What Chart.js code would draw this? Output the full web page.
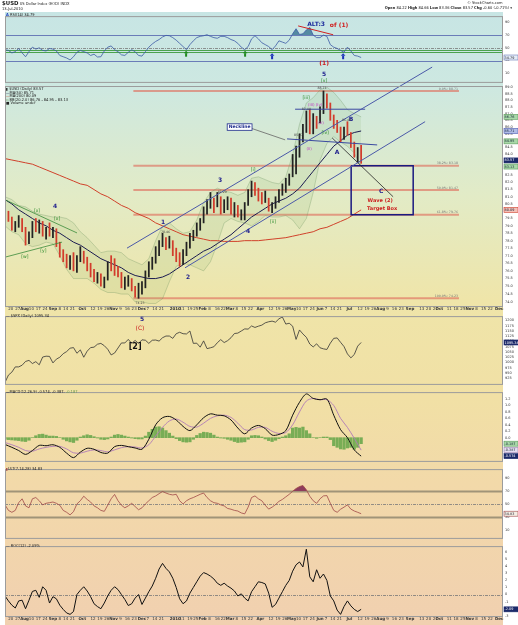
<!DOCTYPE html>
<html>
<head>
<meta charset="utf-8">
<title>$USD US Dollar Index (EOD)</title>
<script src="https://cdn.jsdelivr.net/npm/chart.js@4.4.1/dist/chart.umd.min.js"></script>
<style>
  body { margin: 0; width: 518px; height: 625px; position: relative; overflow: hidden; background: #fff;
         font-family: "DejaVu Sans", Verdana, sans-serif; }
  #bg { position: absolute; left: 5px; top: 12px; width: 498px; height: 613px;
        background: linear-gradient(to bottom, #c7e5e4 0%, #cde8e1 12%, #e2ebc6 30%, #efe5a9 47%,
                                    #f1e0a5 63%, #f2d9a9 77%, #f1d0b0 100%); }
  canvas { position: absolute; left: 0; }
  .t { position: absolute; white-space: nowrap; font-size: 8px; line-height: 8px;
       transform-origin: 0 0; transform: scale(0.45); color: #222; }
  .r { transform-origin: 100% 0; text-align: right; }
</style>
</head>
<body>
<div id="bg"></div>
<canvas id="cRsi" width="518" height="74" style="top:12px"></canvas>
<canvas id="cPrice" width="518" height="300" style="top:12px"></canvas>
<canvas id="cSpx" width="518" height="76" style="top:312px"></canvas>
<canvas id="cMacd" width="518" height="77" style="top:388px"></canvas>
<canvas id="cUlt" width="518" height="77" style="top:465px"></canvas>
<canvas id="cRoc" width="518" height="83" style="top:542px"></canvas>

<div class="t" style="left:2px;top:1px"><b style="font-size:12px">$USD</b> US Dollar Index (EOD) INDX</div>
<div class="t" style="left:2px;top:7px">13-Jul-2010</div>
<div class="t r" style="right:16px;top:1px">&copy; StockCharts.com</div>
<div class="t r" style="right:6px;top:6px"><b>Open</b> 84.22 <b>High</b> 84.66 <b>Low</b> 83.36 <b>Close</b> 83.57 <b>Chg</b> -0.60 (-0.71%) &#9662;</div>
<div class="t" style="left:6px;top:13px"><b style="color:#2040c0">A</b> RSI(14) 34.79</div>
<div class="t" style="left:6px;top:87px">&#9646; $USD (Daily) 83.57</div>
<div class="t" style="left:6px;top:90.5px"><span style="color:#1a1a50">&mdash;</span>MA(50) 85.71</div>
<div class="t" style="left:6px;top:94px"><span style="color:#d0402a">&mdash;</span>MA(200) 80.09</div>
<div class="t" style="left:6px;top:97.5px"><span style="color:#6a9a5a">&#9643;</span> BB(20,2.0) 86.76 - 84.95 - 83.13</div>
<div class="t" style="left:6px;top:101px">&#9632; Volume undef</div>
<div class="t" style="left:6px;top:313.5px">&mdash; $SPX (Daily) 1095.34</div>
<div class="t" style="left:6px;top:389.5px"><b>&mdash;</b>MACD(12,26,9) -0.574, -0.387, <span style="color:#6a9a4a">-0.187</span></div>
<div class="t" style="left:6px;top:466.5px"><span style="color:#a04848">&#9646;</span>ULT(7,14,28) 34.83</div>
<div class="t" style="left:6px;top:543.5px">&mdash; ROC(12) -2.09%</div>

<script>
// sampling grid (days since 14-Jul-2009)
const HALF = 3.5;
const WEEK = 7;

// x axis tick labels
const xTickDates = ['2009-07-20','2009-07-27','2009-08-03','2009-08-10','2009-08-17','2009-08-24',
  '2009-09-01','2009-09-08','2009-09-14','2009-09-21','2009-10-01','2009-10-12','2009-10-19','2009-10-26',
  '2009-11-02','2009-11-09','2009-11-16','2009-11-23','2009-12-01','2009-12-07','2009-12-14','2009-12-21',
  '2010-01-04','2010-01-11','2010-01-19','2010-01-25','2010-02-01','2010-02-08','2010-02-16','2010-02-22',
  '2010-03-01','2010-03-08','2010-03-15','2010-03-22','2010-04-01','2010-04-12','2010-04-19','2010-04-26',
  '2010-05-03','2010-05-10','2010-05-17','2010-05-24','2010-06-01','2010-06-07','2010-06-14','2010-06-21',
  '2010-07-01','2010-07-12','2010-07-19','2010-07-26','2010-08-02','2010-08-09','2010-08-16','2010-08-23',
  '2010-09-01','2010-09-13','2010-09-20','2010-09-27','2010-10-01','2010-10-11','2010-10-18','2010-10-25',
  '2010-11-01','2010-11-08','2010-11-15','2010-11-22','2010-12-01'];
const xTickNames = ['20','27','Aug','10','17','24','Sep','8','14','21','Oct','12','19','26',
  'Nov','9','16','23','Dec','7','14','21','2010','11','19','25','Feb','8','16','22',
  'Mar','8','15','22','Apr','12','19','26','May','10','17','24','Jun','7','14','21',
  'Jul','12','19','26','Aug','9','16','23','Sep','13','20','27','Oct','11','18','25',
  'Nov','8','15','22','Dec'];

// y axis tick labels
const rsiTicks = [90, 70, 50, 30, 10];
const priceTicks = [89, 88.5, 88, 87.5, 87, 86.5, 86, 85.5, 85, 84.5, 84, 83.5, 83, 82.5, 82, 81.5,
  81, 80.5, 80, 79.5, 79, 78.5, 78, 77.5, 77, 76.5, 76, 75.5, 75, 74.5, 74];
const spxTicks = [1200, 1175, 1150, 1125, 1100, 1075, 1050, 1025, 1000, 975, 950, 925];
const macdTicks = [1.2, 1.0, 0.8, 0.6, 0.4, 0.2, 0.0];
const ultTicks = [90, 70, 50, 30, 10];
const rocTicks = [6, 5, 4, 3, 2, 1, 0, -1, -2, -3];

// $USD price bars, two per week
const priceHigh = [80.4,80.0,79.6,79.3,79.7,79.5,78.9,78.6,79.3,79.5,79.4,79.3,78.9,79.2,78.9,78.8,77.9,77.4,77.1,77.0,
  77.2,77.0,77.6,77.3,76.9,76.5,76.1,75.9,75.8,75.6,76.6,77.0,76.8,76.3,75.9,75.6,75.7,75.5,75.0,75.2,
  75.3,76.0,76.6,76.9,77.6,78.0,78.5,78.2,78.3,78.0,77.5,77.2,77.4,77.9,78.5,78.7,79.2,79.5,80.3,80.8,
  81.3,80.9,81.3,81.0,80.8,81.0,80.9,80.6,80.4,80.1,80.6,81.5,82.1,82.0,81.6,81.3,81.4,80.9,80.6,81.0,
  81.5,81.9,82.3,82.6,84.0,84.6,85.5,86.2,87.2,87.3,87.0,86.8,87.5,88.71,88.5,87.8,86.9,86.5,86.0,86.0,
  86.4,85.6,84.9,84.5,84.66];
const priceLow = [79.6,79.3,78.7,78.6,78.9,78.6,77.7,77.8,78.2,78.6,78.5,78.3,78.1,78.3,78.2,77.6,76.9,76.6,76.2,76.1,
  76.0,75.9,76.6,76.5,76.0,75.6,75.3,75.2,75.0,74.9,75.4,76.0,75.7,75.6,74.9,74.8,75.0,74.7,74.3,74.23,
  74.5,74.9,75.6,76.1,76.5,77.0,77.6,77.4,77.5,77.0,76.6,76.3,76.4,77.0,77.5,78.0,78.3,78.7,79.2,79.8,
  80.2,79.9,80.3,79.8,79.9,80.1,79.8,79.6,79.6,79.4,79.4,80.4,81.0,81.1,80.7,80.5,80.6,80.0,79.9,80.2,
  80.6,81.1,81.3,81.8,82.4,82.6,83.8,84.9,85.6,85.5,85.5,85.9,86.3,87.0,87.4,86.5,85.9,85.6,84.9,85.1,
  85.4,84.5,83.8,83.4,83.36];
const priceClose = [79.8,79.5,78.9,79.1,79.3,78.8,78.0,78.4,79.0,78.8,79.2,78.5,78.6,78.5,78.7,77.8,77.1,76.8,76.4,76.6,
  76.3,76.8,77.2,76.8,76.3,75.8,75.5,75.5,75.2,75.4,76.4,76.2,76.0,75.8,75.1,75.3,75.4,74.9,74.5,75.0,
  75.0,75.8,76.4,76.6,77.4,77.8,78.0,77.7,77.9,77.2,76.9,76.6,77.2,77.7,78.3,78.4,79.0,79.3,80.1,80.5,
  80.6,80.4,80.8,80.2,80.5,80.6,80.0,80.0,79.8,79.9,80.4,81.3,81.8,81.4,81.0,80.9,80.9,80.2,80.3,80.8,
  81.3,81.6,82.0,82.4,83.8,84.2,85.3,85.9,86.8,85.8,86.6,86.4,87.2,88.2,87.6,86.8,86.1,85.8,85.2,85.8,
  85.6,84.7,84.0,84.2,83.57];

// overlays, one value per week
const ma50 = [80.8,80.5,80.1,79.8,79.5,79.2,79.0,78.7,78.5,78.2,77.9,77.7,77.4,77.1,76.8,76.6,76.4,76.2,75.9,75.7,
  75.6,75.5,75.5,75.6,75.8,76.1,76.4,76.7,77.0,77.3,77.5,77.8,78.1,78.4,78.8,79.2,79.6,79.9,80.2,80.5,
  80.7,80.9,81.2,81.6,82.2,82.8,83.4,84.0,84.6,85.0,85.4,85.6,85.71];
const ma200 = [83.7,83.6,83.5,83.4,83.3,83.1,82.9,82.7,82.5,82.3,82.1,81.9,81.8,81.5,81.2,81.0,80.7,80.4,80.2,79.9,
  79.7,79.5,79.2,79.0,78.8,78.6,78.4,78.3,78.2,78.1,78.0,78.0,77.95,77.95,77.95,78.0,78.0,78.0,78.05,78.1,
  78.15,78.2,78.3,78.4,78.5,78.6,78.8,78.9,79.1,79.3,79.5,79.8,80.09];
const bbUpper = [81.0,80.8,80.4,80.3,80.0,79.8,79.7,79.6,79.6,79.5,79.2,78.6,78.2,77.7,77.2,77.3,77.3,77.2,76.8,76.6,
  76.4,76.8,78.0,79.0,79.2,78.8,78.5,78.6,79.4,80.6,81.3,81.6,81.4,81.3,81.1,81.3,82.3,82.4,82.2,82.0,
  81.9,82.4,84.0,86.2,87.8,88.2,88.8,89.0,88.6,88.0,87.3,87.0,86.76];
const bbLower = [79.0,78.6,78.4,77.8,77.6,77.7,77.9,77.8,77.0,76.1,75.5,75.5,75.5,75.2,74.8,74.6,74.6,74.5,74.5,74.0,
  74.0,73.9,73.9,74.2,75.3,76.3,76.5,76.4,76.2,76.0,76.6,77.8,79.2,79.5,79.3,79.2,79.0,79.3,79.7,79.6,
  79.6,79.7,79.4,78.8,79.5,81.3,83.6,84.8,85.3,84.9,84.6,84.1,83.13];
const fibLevels = [88.71, 83.18, 81.47, 79.76, 74.23];
const fibNames = ['0.0%', '38.2%', '50.0%', '61.8%', '100.0%'];

// indicators, two per week
const rsi14 = [47,46,42,44,49,42,36,44,51,48,50,46,45,49,48,45,38,36,34,31,
  36,43,46,44,42,38,40,35.6,36,45,51,53,47,44,39,38,43,47,44,38,
  37,44,51,56,60,63,67,69.5,69,66,62,57,52,47,55,61,66,68,69,70.5,
  68,66,65,68,68,66,63,61,57,51,47,52,64,69,64,58,55,52,47,53,
  61,59,57,62,72,80,71,72,78,82,70,66,66,70,68,55,51,49,46,43,
  51,45,38,37,34.79];
const spx = [905,940,954,979,979,987,1005,1010,995,1004,989,1026,1030,1029,998,1016,1025,1042,1052,1068,
  1071,1044,1060,1025,1054,1071,1073,1087,1091,1080,1063,1036,1045,1069,1093,1093,1110,1091,1105,1091,
  1108,1106,1091,1106,1107,1102,1118,1126,1126,1115,1137,1144,1137,1136,1150,1091,1092,1073,1103,1066,
  1070,1075,1094,1109,1095,1104,1118,1138,1140,1150,1160,1159,1174,1167,1173,1178,1189,1194,1197,1192,
  1208,1217,1183,1187,1173,1110,1155,1136,1120,1088,1074,1089,1070,1065,1062,1092,1115,1117,1096,1076,
  1041,1022,1038,1078,1095.34];
const macdLine = [-0.21,-0.30,-0.40,-0.52,-0.40,-0.24,-0.25,-0.22,-0.30,-0.48,-0.62,-0.45,-0.33,-0.36,-0.46,-0.48,
  -0.28,-0.24,-0.28,-0.32,-0.36,-0.05,0.40,0.62,0.66,0.55,0.35,0.22,0.40,0.62,0.74,0.70,0.68,0.55,0.30,0.12,
  0.30,0.38,0.28,0.08,0.10,0.22,0.70,1.10,1.36,1.22,1.18,1.20,0.70,0.25,0.00,-0.38,-0.574];
const macdSignal = [-0.15,-0.22,-0.30,-0.40,-0.42,-0.35,-0.30,-0.27,-0.27,-0.35,-0.47,-0.48,-0.42,-0.38,-0.40,-0.44,
  -0.38,-0.31,-0.28,-0.29,-0.32,-0.22,0.05,0.32,0.52,0.58,0.48,0.35,0.33,0.45,0.60,0.68,0.70,0.63,0.45,0.25,
  0.24,0.32,0.32,0.20,0.13,0.16,0.40,0.80,1.14,1.22,1.18,1.18,1.00,0.60,0.32,-0.02,-0.387];
const macdHist = [-0.05,-0.06,-0.07,-0.08,-0.09,-0.11,-0.12,-0.08,0.00,0.06,0.10,0.11,0.08,0.05,0.05,0.04,0.00,-0.05,-0.10,-0.13,
  -0.15,-0.08,0.02,0.06,0.09,0.07,0.03,-0.01,-0.05,-0.06,-0.04,0.02,0.08,0.10,0.08,0.05,0.02,-0.01,-0.03,-0.04,
  -0.04,0.05,0.17,0.26,0.33,0.34,0.30,0.22,0.14,0.05,-0.03,-0.09,-0.13,-0.14,-0.13,-0.05,0.07,0.13,0.17,0.16,
  0.14,0.08,0.02,-0.01,-0.02,-0.05,-0.08,-0.12,-0.15,-0.14,-0.13,-0.05,0.06,0.07,0.06,0.02,-0.04,-0.09,-0.12,-0.08,
  -0.03,0.02,0.06,0.12,0.30,0.32,0.30,0.33,0.22,0.12,0.00,-0.02,0.00,0.02,0.02,-0.06,-0.25,-0.30,-0.35,-0.36,
  -0.32,-0.30,-0.36,-0.30,-0.187];
const ult = [48.6,40,37,40,52,58,47,44,58,60,55,48.6,51,52,53,51,48,40,37,33,
  38,50,55,62,57,53,47,44,40,38.5,48,58,64.8,55,48,44,47,51,46,41,
  44,50,55,60,62.5,66,69.4,67,65,64,65,55,50,55,58,60,62.5,65,67,60,
  55,52,51,48.6,47,43,41.8,40,39,36,34.6,45,60,62.5,58,55,48,42,45,49,
  54,57,61,65,69.7,74,77,78.7,72,62,55,51,58,62.5,63,51,40,37,41.8,45,
  48.6,42,39,37,34.83];
const roc = [-0.2,-0.9,-1.5,-1.9,-0.9,-0.8,-2.0,-0.8,0.44,0.6,-0.4,1.1,0.6,-1.2,-0.3,-0.6,-1.5,-2.1,-2.6,-2.8,
  -2.4,0.0,0.6,1.1,0.5,-0.3,-1.3,-1.7,-2.0,-1.2,-0.2,0.6,1.1,0.7,0.0,-0.7,-1.55,-1.3,-0.5,0.0,
  -1.4,-0.5,0.4,1.2,2.3,3.6,4.4,3.7,3.2,2.3,1.0,-0.6,-1.3,-0.9,0.2,1.0,1.8,2.6,3.1,2.9,
  2.6,2.2,1.6,1.3,1.6,1.2,0.9,0.5,-0.2,0.1,-0.5,-0.9,0.4,1.1,1.8,1.7,1.5,0.2,-1.8,-1.4,
  -0.5,0.4,1.3,2.0,3.3,4.2,4.6,3.9,6.4,2.5,1.8,3.5,2.3,2.9,2.0,-0.2,-0.9,-2.2,-2.8,-1.7,
  -0.9,-1.6,-2.1,-2.4,-2.09];

const FONT = '"DejaVu Sans", Verdana, sans-serif';
Chart.defaults.font.family = FONT;
const X0 = Date.UTC(2009, 6, 14);
const dayOf = s => (Date.parse(s) - X0) / 864e5;
const half = arr => arr.map((v, i) => ({x: i * HALF, y: v}));
const week = arr => arr.map((v, i) => ({x: i * WEEK, y: v}));
const seg = pts => pts.map(p => ({x: p[0], y: p[1]}));
const line = (data, color, w, extra) => Object.assign({type: 'line', data, borderColor: color, borderWidth: w,
  pointRadius: 0, fill: false, tension: 0}, extra || {});

// extra drawing per canvas: reference lines, labels, arrows, value boxes
const notes = {};
const deco = {
  id: 'deco',
  beforeDatasetsDraw(chart) {
    const n = notes[chart.canvas.id] || {};
    const {ctx, chartArea: a, scales: {y}} = chart;
    ctx.save();
    (n.hlines || []).forEach(h => {
      const py = Math.round(y.getPixelForValue(h.v)) + 0.5;
      ctx.strokeStyle = h.c; ctx.lineWidth = h.w; ctx.setLineDash(h.dash || []);
      ctx.beginPath(); ctx.moveTo(a.left, py); ctx.lineTo(a.right, py); ctx.stroke();
    });
    ctx.restore();
  },
  afterDraw(chart) {
    const n = notes[chart.canvas.id] || {};
    const {ctx, chartArea: a, scales: {x, y}} = chart;
    ctx.save();
    ctx.strokeStyle = '#9c9c9c'; ctx.lineWidth = 1;
    ctx.strokeRect(a.left + 0.5, a.top + 0.5, a.right - a.left - 1, a.bottom - a.top);
    (n.arrows || []).forEach(r => {
      const px = x.getPixelForValue(r.d), py = y.getPixelForValue(r.v);
      ctx.fillStyle = r.c;
      ctx.beginPath(); ctx.moveTo(px, py); ctx.lineTo(px - 2.3, py + 2.6); ctx.lineTo(px + 2.3, py + 2.6);
      ctx.closePath(); ctx.fill();
      ctx.fillRect(px - 1, py + 2.5, 2, 3.5);
    });
    (n.texts || []).forEach(t => {
      ctx.font = (t.b ? 'bold ' : '') + (t.s || 4) + 'px ' + FONT;
      ctx.textAlign = t.a || 'center'; ctx.textBaseline = 'middle';
      const px = x.getPixelForValue(t.d), py = y.getPixelForValue(t.v) + (t.dy || 0);
      if (t.box) {
        const w = ctx.measureText(t.t).width + 3, h = (t.s || 4) + 2;
        ctx.fillStyle = '#fff'; ctx.fillRect(px - w / 2, py - h / 2, w, h);
        ctx.strokeStyle = t.c; ctx.lineWidth = 0.8; ctx.strokeRect(px - w / 2, py - h / 2, w, h);
      }
      ctx.fillStyle = t.c || '#333';
      ctx.fillText(t.t, px, py);
    });
    (n.boxes || []).forEach(b => {
      const py = y.getPixelForValue(b.v);
      ctx.fillStyle = b.bg; ctx.fillRect(a.right + 1, py - 2.5, 14, 5);
      ctx.strokeStyle = b.bd; ctx.lineWidth = 0.6; ctx.strokeRect(a.right + 1, py - 2.5, 14, 5);
      ctx.fillStyle = b.fg; ctx.font = '3.4px ' + FONT; ctx.textAlign = 'left'; ctx.textBaseline = 'middle';
      ctx.fillText(b.t, a.right + 1.6, py + 0.2);
    });
    ctx.restore();
  }
};

function xAxis(h) {
  return {
    type: 'linear', min: 0, max: 509, offset: false, display: h > 0,
    grid: {display: false, drawTicks: false}, border: {display: false},
    afterBuildTicks: s => { s.ticks = xTickDates.map(d => ({value: dayOf(d)})); },
    afterFit: s => { s.height = h; },
    ticks: {
      autoSkip: false, maxRotation: 0, minRotation: 0, padding: 1, color: '#333',
      font: c => ({size: 4, weight: /[A-Za-z]|2010/.test(xTickNames[c.index] || '') ? 'bold' : 'normal'}),
      callback: (v, i) => xTickNames[i]
    }
  };
}
function yAxis(o) {
  return {
    type: o.type || 'linear', position: 'right', min: o.min, max: o.max,
    grid: {display: false, drawTicks: false}, border: {display: false},
    afterBuildTicks: s => { s.ticks = o.ticks.map(v => ({value: v})); },
    afterFit: s => { s.width = 15; },
    ticks: {autoSkip: false, padding: 2, color: '#333', font: {size: 3.5},
      callback: v => (o.fmt ? o.fmt(v) : String(v))}
  };
}
function mk(id, type, datasets, yOpts, xh, padTop) {
  return new Chart(document.getElementById(id), {
    type, data: {datasets},
    options: {
      responsive: false, animation: false, events: [],
      layout: {padding: {left: 5, right: 0, top: padTop || 0, bottom: 0}},
      plugins: {legend: {display: false}, tooltip: {enabled: false}},
      scales: {x: xAxis(xh || 0), y: yAxis(yOpts)}
    },
    plugins: [deco]
  });
}

// ---- RSI(14) ----
notes.cRsi = {
  hlines: [
    {v: 70, c: '#6a7cb8', w: 1.2}, {v: 30, c: '#6a7cb8', w: 1.2},
    {v: 50, c: '#7a7a7a', w: 0.8, dash: [3, 1, 1, 1]},
    {v: 46, c: '#3b9a3b', w: 0.9}, {v: 43.5, c: '#3b9a3b', w: 0.9}
  ],
  texts: [
    {d: 318, v: 87.2, t: 'ALT:3', c: '#1c2a9c', b: 1, s: 6},
    {d: 332, v: 84.9, t: 'of (1)', c: '#d02020', b: 1, s: 6, a: 'left'}
  ],
  arrows: [
    {d: 185.1, v: 45.5, c: '#1e8a1e'}, {d: 245.4, v: 45.5, c: '#1e8a1e'},
    {d: 273, v: 41.5, c: '#1c34b8'}, {d: 345.6, v: 41.5, c: '#1c34b8'}
  ],
  boxes: [{v: 34.79, t: '34.79', bg: '#e4ecf6', fg: '#223', bd: '#6a7cb8'}]
};
mk('cRsi', 'line', [
  line(seg([[299.6, 84.4], [335.4, 70.5]]), '#d02020', 1),
  line(half(rsi14), '#3c5aa6', 0.8, {fill: {target: {value: 70}, above: 'rgba(55,115,145,0.8)', below: 'rgba(0,0,0,0)'}})
], {min: -3.5, max: 99.8, ticks: rsiTicks});

// ---- $USD price ----
const navy = '#1c2a8c', wave = '#1c1c8c', grn = '#2a8a2a', mag = '#c030c0', red = '#cc2020';
notes.cPrice = {
  texts: [
    {d: 161.6, v: 79.2, t: '1', c: wave, b: 1, s: 6},
    {d: 187.1, v: 75.6, t: '2', c: wave, b: 1, s: 6},
    {d: 219.8, v: 82.17, t: '3', c: wave, b: 1, s: 6},
    {d: 248.5, v: 78.6, t: '4', c: wave, b: 1, s: 6},
    {d: 51.1, v: 80.3, t: '4', c: wave, b: 1, s: 6},
    {d: 326.2, v: 90.0, t: '5', c: wave, b: 1, s: 6},
    {d: 326.2, v: 90.86, t: '(1)', c: red, b: 1, s: 6},
    {d: 339.5, v: 84.18, t: 'A', c: wave, b: 1, s: 6},
    {d: 353.8, v: 86.6, t: 'B', c: wave, b: 1, s: 6},
    {d: 384.5, v: 81.34, t: 'C', c: wave, b: 1, s: 6},
    {d: 383.4, v: 80.72, t: 'Wave (2)', c: red, b: 1, s: 5},
    {d: 385.5, v: 80.2, t: 'Target Box', c: red, b: 1, s: 5},
    {d: 32.7, v: 80.0, t: '[x]', c: grn, s: 4.5},
    {d: 53.2, v: 79.47, t: '[x]', c: grn, s: 4.5},
    {d: 20.4, v: 76.9, t: '[w]', c: grn, s: 4.5},
    {d: 39.2, v: 77.33, t: '[y]', c: grn, s: 4.5},
    {d: 253.6, v: 82.88, t: '[i]', c: grn, s: 4.5},
    {d: 274, v: 79.27, t: '[ii]', c: grn, s: 4.5},
    {d: 307.8, v: 88.18, t: '[iii]', c: grn, s: 4.5},
    {d: 327.2, v: 85.57, t: '[iv]', c: grn, s: 4.5},
    {d: 326.2, v: 89.48, t: '[v]', c: grn, s: 4.5},
    {d: 310.8, v: 84.4, t: '(ii)', c: mag, s: 4},
    {d: 313, v: 87.65, t: '(iii)', c: mag, s: 4},
    {d: 321, v: 87.65, t: '(iv)', c: mag, s: 4},
    {d: 323, v: 86.3, t: '(v)', c: mag, s: 4},
    {d: 239.8, v: 86.0, t: 'Neckline', c: navy, b: 1, s: 4.5, box: 1},
    {d: 324.1, v: 88.94, t: '88.71', c: '#444', s: 3.2},
    {d: 138, v: 73.95, t: '74.23', c: '#444', s: 3.2},
    {d: 300, v: 85.4, t: '85.27', c: '#444', s: 3.2},
    {d: 308, v: 87.35, t: '87.40', c: '#444', s: 3.2},
    {d: 222, v: 81.35, t: '81.29', c: '#444', s: 3.2},
    {d: 164, v: 78.55, t: '78.46', c: '#444', s: 3.2},
    {d: 349, v: 86.5, t: '86.40', c: '#444', s: 3.2}
  ].concat(fibLevels.map((lv, i) => ({d: 463, v: lv, dy: -2.2, t: fibNames[i] + ': ' + lv.toFixed(2),
    c: '#777', s: 3.2, a: 'right'}))),
  boxes: [
    {v: 86.76, t: '86.76', bg: '#a8d8a8', fg: '#123', bd: '#5a9a5a'},
    {v: 85.71, t: '85.71', bg: '#b0bce8', fg: '#123', bd: '#4a5ab0'},
    {v: 84.95, t: '84.95', bg: '#a8d8a8', fg: '#123', bd: '#5a9a5a'},
    {v: 83.57, t: '83.57', bg: '#1c2a6a', fg: '#fff', bd: '#1c2a6a'},
    {v: 83.13, t: '83.13', bg: '#a8d8a8', fg: '#123', bd: '#5a9a5a'},
    {v: 80.09, t: '80.09', bg: '#f4c0b8', fg: '#123', bd: '#d0402a'}
  ]
};
const barColors = priceClose.map((c, i) => (i > 0 && c < priceClose[i - 1]) ? '#d23c2c' : '#222');
const priceSets = [
  line(seg([[124.7, 77.5], [436.6, 90.55]]), '#4a58a8', 1, {clip: false, order: 0}),
  line(seg([[184, 76.2], [429.4, 86.4]]), '#4a58a8', 1, {order: 0}),
  line(seg([[250.5, 85.94], [286.3, 85.06]]), '#666', 0.8, {order: 0}),
  line(seg([[288.3, 85.13], [380.4, 84.69]]), '#3a48a0', 1, {order: 0}),
  line(seg([[296.5, 87.33], [368.1, 87.33]]), '#3a48a0', 1, {order: 0}),
  line(seg([[334.4, 85.2], [396.7, 81.0]]), '#222', 0.8, {order: 0}),
  line(seg([[353.8, 83.18], [417.2, 83.18], [417.2, 79.76], [353.8, 79.76], [353.8, 83.18]]), '#1a1a80', 1.5, {order: 0}),
  line(seg([[0, 80.79], [73.6, 78.52]]), '#3a8a3a', 0.8, {order: 0}),
  line(seg([[0, 76.9], [58.3, 77.9]]), '#3a8a3a', 0.8, {order: 0}),
  {type: 'bar', data: priceHigh.map((h, i) => ({x: i * HALF, y: [priceLow[i], h]})), backgroundColor: barColors,
   barThickness: 1.1, order: 1},
  line(week(ma50), '#1a1a50', 1, {order: 2}),
  line(week(ma200), '#d0402a', 1, {order: 3}),
  line(week(bbUpper), 'rgba(100,140,90,0.5)', 0.6, {order: 4, fill: '+1', backgroundColor: 'rgba(120,170,100,0.12)'}),
  line(week(bbLower), 'rgba(100,140,90,0.5)', 0.6, {order: 4})
].concat(fibLevels.map(lv => line(seg([[131.2, lv], [464, lv]]), 'rgba(222,112,95,0.65)', 2, {order: 5})));
mk('cPrice', 'bar', priceSets, {type: 'logarithmic', min: 73.74, max: 89.09, ticks: priceTicks, fmt: v => v.toFixed(1)}, 6, 74);

// ---- $SPX ----
notes.cSpx = {
  texts: [
    {d: 140.1, v: 1204, t: '5', c: wave, b: 1, s: 6},
    {d: 138, v: 1162, t: '(C)', c: red, s: 6},
    {d: 133, v: 1073, t: '[2]', c: '#111', b: 1, s: 8}
  ],
  boxes: [{v: 1095.34, t: '1095.34', bg: '#1c2a6a', fg: '#fff', bd: '#1c2a6a'}]
};
mk('cSpx', 'line', [line(half(spx), '#333', 0.8)], {min: 898, max: 1221, ticks: spxTicks});

// ---- MACD ----
notes.cMacd = {
  boxes: [
    {v: -0.187, t: '-0.187', bg: '#a8d8a8', fg: '#123', bd: '#5a9a5a'},
    {v: -0.387, t: '-0.387', bg: '#e4dcf0', fg: '#123', bd: '#9a80b0'},
    {v: -0.574, t: '-0.574', bg: '#1c2a6a', fg: '#fff', bd: '#1c2a6a'}
  ]
};
mk('cMacd', 'bar', [
  line(week(macdLine), '#111', 1, {order: 0, tension: 0.3}),
  line(week(macdSignal), '#b07ab8', 0.9, {order: 1, tension: 0.3}),
  {type: 'bar', data: half(macdHist), backgroundColor: '#78ad55', barThickness: 2.6, order: 2}
], {min: -0.722, max: 1.417, ticks: macdTicks, fmt: v => v.toFixed(1)});

// ---- ULT ----
notes.cUlt = {
  hlines: [
    {v: 70, c: '#a09478', w: 2}, {v: 30, c: '#a09478', w: 2},
    {v: 50, c: '#7a7a7a', w: 0.8, dash: [3, 1, 1, 1]}
  ],
  boxes: [{v: 34.83, t: '34.83', bg: '#f4eee4', fg: '#223', bd: '#a04848'}]
};
mk('cUlt', 'line', [
  line(half(ult), '#a04848', 0.8, {fill: {target: {value: 70}, above: '#8e3c5c', below: 'rgba(0,0,0,0)'}})
], {min: -2.8, max: 104.2, ticks: ultTicks});

// ---- ROC ----
notes.cRoc = {
  hlines: [{v: 0, c: '#777', w: 0.8, dash: [3, 1, 1, 1]}],
  boxes: [{v: -2.09, t: '-2.09', bg: '#1c2a6a', fg: '#fff', bd: '#1c2a6a'}]
};
mk('cRoc', 'line', [line(half(roc), '#111', 1)], {min: -3.03, max: 6.84, ticks: rocTicks}, 9);
</script>
</body>
</html>
